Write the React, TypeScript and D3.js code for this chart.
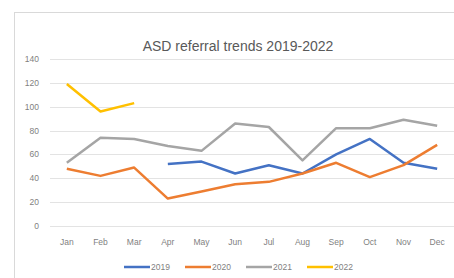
import React, { useEffect, useRef } from "react";
import * as d3 from "d3";

const months = ["Jan", "Feb", "Mar", "Apr", "May", "Jun", "Jul", "Aug", "Sep", "Oct", "Nov", "Dec"];
const yTicks = [0, 20, 40, 60, 80, 100, 140, 120];

// null = no referral figure for that month
const s2019 = [null, null, null, 52, 54, 44, 51, 44, 60, 73, 53, 48];
const s2020 = [48, 42, 49, 23, 29, 35, 37, 44, 53, 41, 51, 68];
const s2021 = [53, 74, 73, 67, 63, 86, 83, 55, 82, 82, 89, 84];
const s2022 = [119, 96, 103, null, null, null, null, null, null, null, null, null];

const seriesNames = ["2019", "2020", "2021", "2022"];
const seriesColors = ["#4472c4", "#ed7d31", "#a5a5a5", "#ffc000"];

const W = 454;
const H = 278;

const App: React.FC = () => {
  const svgRef = useRef<SVGSVGElement>(null);

  useEffect(() => {
    if (!svgRef.current) return;
    const svg = d3.select(svgRef.current);
    svg.selectAll("*").remove();

    const font = "'Liberation Sans', Arial, sans-serif";
    const textColor = "#7f7f7f";

    // chart frame
    svg.append("rect").attr("width", W).attr("height", H).attr("fill", "#fff");
    svg
      .append("rect")
      .attr("x", 14.5)
      .attr("y", 12.5)
      .attr("width", W)
      .attr("height", H)
      .attr("fill", "#fff")
      .attr("stroke", "#d9d9d9");

    const x = d3.scaleBand<string>().domain(months).range([50, 454]);
    const y = d3.scaleLinear().domain([0, 140]).range([226, 59]);

    svg
      .append("text")
      .attr("x", 238)
      .attr("y", 51)
      .attr("text-anchor", "middle")
      .attr("font-family", font)
      .attr("font-size", 14)
      .attr("fill", "#595959")
      .text("ASD referral trends 2019-2022");

    // gridlines + y labels
    const yAxis = svg.append("g");
    yAxis
      .selectAll("line")
      .data(yTicks)
      .enter()
      .append("line")
      .attr("x1", 50)
      .attr("x2", 454)
      .attr("y1", (d) => Math.round(y(d)) + 0.5)
      .attr("y2", (d) => Math.round(y(d)) + 0.5)
      .attr("stroke", "#e3e3e3");
    yAxis
      .selectAll("text")
      .data(yTicks)
      .enter()
      .append("text")
      .attr("x", 39)
      .attr("y", (d) => y(d))
      .attr("dy", "0.35em")
      .attr("text-anchor", "end")
      .attr("font-family", font)
      .attr("font-size", 8.5)
      .attr("fill", textColor)
      .text((d) => d);

    svg
      .append("g")
      .selectAll("text")
      .data(months)
      .enter()
      .append("text")
      .attr("x", (d) => x(d)! + x.bandwidth() / 2)
      .attr("y", 245)
      .attr("text-anchor", "middle")
      .attr("font-family", font)
      .attr("font-size", 8.5)
      .attr("fill", textColor)
      .text((d) => d);

    const allSeries = [s2019, s2020, s2021, s2022];
    const line = d3
      .line<number | null>()
      .defined((d) => d != null)
      .x((_, i) => x(months[i])! + x.bandwidth() / 2)
      .y((d) => y(d as number));

    allSeries.forEach((s, i) => {
      svg
        .append("path")
        .datum(s)
        .attr("d", line)
        .attr("fill", "none")
        .attr("stroke", seriesColors[i])
        .attr("stroke-width", 2.5)
        .attr("stroke-linejoin", "round");
    });

    // legend
    const legendX = d3.scaleLinear().domain([0, 1]).range([124, 185]);
    const legend = svg
      .append("g")
      .selectAll("g")
      .data(seriesNames)
      .enter()
      .append("g")
      .attr("transform", (_, i) => `translate(${legendX(i)},267)`);
    legend
      .append("line")
      .attr("x1", 0)
      .attr("x2", 26)
      .attr("stroke", (_, i) => seriesColors[i])
      .attr("stroke-width", 2.5);
    legend
      .append("text")
      .attr("x", 27)
      .attr("dy", "0.35em")
      .attr("font-family", font)
      .attr("font-size", 8.5)
      .attr("fill", textColor)
      .text((d) => d);
  }, []);

  return (
    <svg
      ref={svgRef}
      width={W}
      height={H}
      style={{ position: "absolute", left: 0, top: 0, display: "block" }}
    />
  );
};

export default App;
